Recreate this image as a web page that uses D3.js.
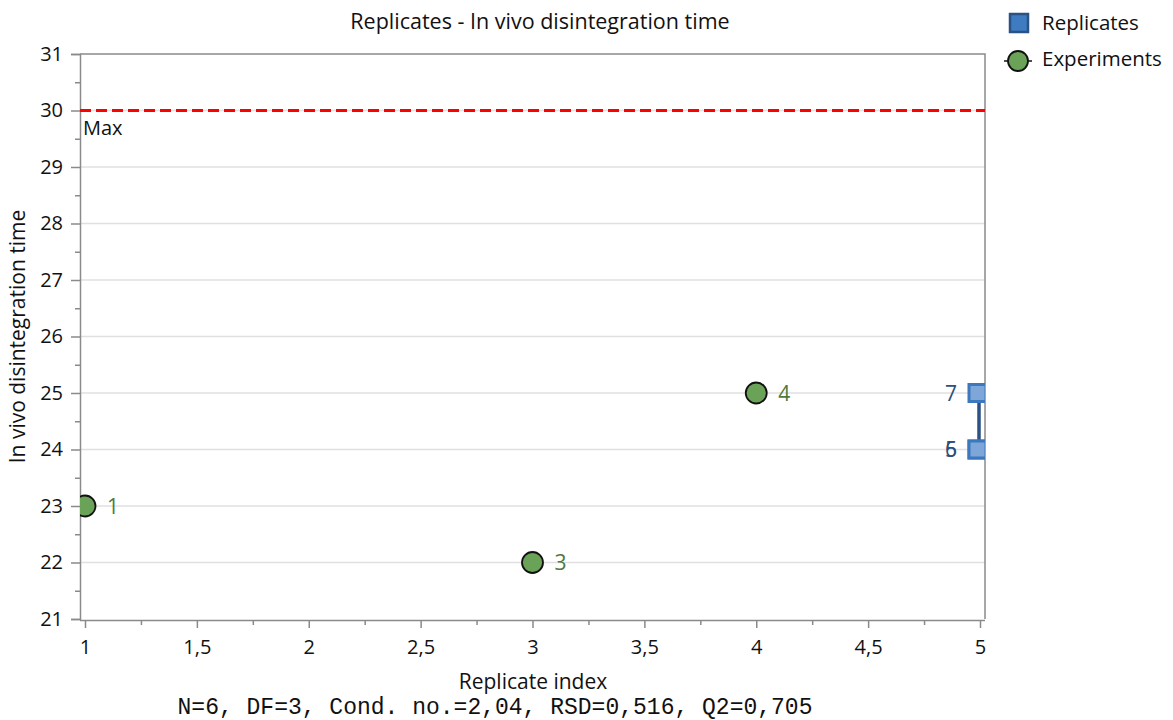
<!DOCTYPE html>
<html>
<head>
<meta charset="utf-8">
<script src="https://cdn.jsdelivr.net/npm/d3@7"></script>
<style>
  body { margin: 0; background: #fff; }
  svg { display: block; font-family: "Open Sans", "Noto Sans", sans-serif; }
</style>
</head>
<body>
<svg id="chart" width="1173" height="720"></svg>
<script>
// Experiments (single runs) and replicate runs of the same setting
const expIndex = [1, 3, 4];
const expValue = [23, 22, 25];
const expLabel = ["1", "3", "4"];

const repIndex = [5, 5, 5];
const repValue = [24, 24, 25];
const repLabel = ["5", "6", "7"];

const maxLimit = 30;
const xTicks = [1, 1.5, 2, 2.5, 3, 3.5, 4, 4.5, 5];
const yTicks = [21, 22, 23, 24, 25, 26, 27, 28, 29, 30, 31];
const statsText = "N=6, DF=3, Cond. no.=2,04, RSD=0,516, Q2=0,705";

const svg = d3.select("#chart");
const plot = { left: 80, top: 54, right: 985, bottom: 619 };

const x = d3.scaleLinear().domain([1, 5]).range([85, 980]);
const y = d3.scaleLinear().domain([21, 31]).range([plot.bottom, plot.top]);
const fmt = d => String(d).replace(".", ",");
const FONT = "'Open Sans', sans-serif";

svg.append("defs").append("clipPath").attr("id", "plotClip")
  .append("rect")
  .attr("x", plot.left).attr("y", plot.top - 12)
  .attr("width", plot.right - plot.left).attr("height", plot.bottom - plot.top + 12);

// horizontal grid
svg.append("g").selectAll("line")
  .data(yTicks.filter(t => t > 21 && t < 31))
  .join("line")
  .attr("x1", plot.left).attr("x2", plot.right)
  .attr("y1", d => y(d)).attr("y2", d => y(d))
  .attr("stroke", "#e0e0e0").attr("stroke-width", 1.5);

// frame (top and right)
svg.append("path")
  .attr("d", `M${plot.left},${plot.top}H${plot.right}V${plot.bottom}`)
  .attr("fill", "none").attr("stroke", "#8a8a8a").attr("stroke-width", 1.5);

// y axis
const yAxis = svg.append("g")
  .attr("transform", `translate(${plot.left},0)`)
  .call(d3.axisLeft(y).tickValues(yTicks).tickSize(9).tickPadding(8).tickFormat(d => d));
yAxis.select(".domain").attr("stroke", "#8a8a8a").attr("stroke-width", 1.5);
yAxis.selectAll(".tick line").attr("stroke", "#8a8a8a").attr("stroke-width", 1.5);
yAxis.selectAll(".tick text").attr("font-size", 20).attr("fill", "#111")
  .attr("font-family", FONT);
svg.append("g").attr("transform", `translate(${plot.left},0)`)
  .call(d3.axisLeft(y).tickValues(d3.range(21.5, 31, 1)).tickSize(5).tickFormat(""))
  .call(g => g.select(".domain").remove())
  .call(g => g.selectAll(".tick line").attr("stroke", "#8a8a8a").attr("stroke-width", 1.5));

// x axis
const xAxis = svg.append("g")
  .attr("transform", `translate(0,${plot.bottom + 1})`)
  .call(d3.axisBottom(x).tickValues(xTicks).tickSize(8).tickPadding(12).tickFormat(fmt));
xAxis.select(".domain").attr("stroke", "#8a8a8a").attr("stroke-width", 1.5)
  .attr("d", `M${plot.left},0.5H${plot.right}`);
xAxis.selectAll(".tick line").attr("stroke", "#8a8a8a").attr("stroke-width", 1.5);
xAxis.selectAll(".tick text").attr("font-size", 20).attr("fill", "#111")
  .attr("font-family", FONT);
svg.append("g").attr("transform", `translate(0,${plot.bottom + 1})`)
  .call(d3.axisBottom(x).tickValues(d3.range(1.25, 5, 0.5)).tickSize(5).tickFormat(""))
  .call(g => g.select(".domain").remove())
  .call(g => g.selectAll(".tick line").attr("stroke", "#8a8a8a").attr("stroke-width", 1.5));

// max limit
svg.append("line")
  .attr("x1", plot.left).attr("x2", plot.right)
  .attr("y1", y(maxLimit)).attr("y2", y(maxLimit))
  .attr("stroke", "#ff0000").attr("stroke-width", 3.2).attr("stroke-dasharray", "11,5");
svg.append("text")
  .attr("x", plot.left + 3).attr("y", y(maxLimit) + 24)
  .attr("font-size", 20).attr("fill", "#111").text("Max");

const marks = svg.append("g").attr("clip-path", "url(#plotClip)");

// replicate range line
const repExtent = d3.extent(repValue);
marks.append("line")
  .attr("x1", x(5) - 1).attr("x2", x(5) - 1)
  .attr("y1", y(repExtent[0])).attr("y2", y(repExtent[1]))
  .attr("stroke", "#2a5285").attr("stroke-width", 3.5);

// replicates
const reps = repIndex.map((d, i) => ({ x: d, y: repValue[i], label: repLabel[i] }));
marks.selectAll("rect.rep").data(reps).join("rect")
  .attr("class", "rep")
  .attr("x", d => x(d.x) - 11).attr("y", d => y(d.y) - 8.5)
  .attr("width", 17).attr("height", 17)
  .attr("fill", "#7ea6d8").attr("stroke", "#3c78bd").attr("stroke-width", 3);
svg.selectAll("text.rep").data(reps).join("text")
  .attr("class", "rep")
  .attr("x", d => x(d.x) - 23).attr("y", d => y(d.y))
  .attr("dy", "0.36em").attr("text-anchor", "end")
  .attr("font-size", 21).attr("fill", "#2c4f7c").text(d => d.label);

// experiments
const exps = expIndex.map((d, i) => ({ x: d, y: expValue[i], label: expLabel[i] }));
marks.selectAll("circle.exp").data(exps).join("circle")
  .attr("class", "exp")
  .attr("cx", d => x(d.x)).attr("cy", d => y(d.y)).attr("r", 10.5)
  .attr("fill", "#6aa257").attr("stroke", "#111").attr("stroke-width", 1.8);
svg.selectAll("text.exp").data(exps).join("text")
  .attr("class", "exp")
  .attr("x", d => x(d.x) + 22).attr("y", d => y(d.y))
  .attr("dy", "0.36em")
  .attr("font-size", 21).attr("fill", "#4e7a3e").text(d => d.label);

// title and axis titles
svg.append("text").attr("x", 540).attr("y", 29).attr("text-anchor", "middle")
  .attr("font-size", 21.5).attr("fill", "#111").text("Replicates - In vivo disintegration time");
svg.append("text").attr("x", 533).attr("y", 689).attr("text-anchor", "middle")
  .attr("font-size", 21).attr("fill", "#111").text("Replicate index");
svg.append("text")
  .attr("transform", `translate(25,${(plot.top + plot.bottom) / 2}) rotate(-90)`)
  .attr("text-anchor", "middle").attr("font-size", 21).attr("fill", "#111")
  .text("In vivo disintegration time");

// statistics footer
svg.append("text").attr("x", 495).attr("y", 714).attr("text-anchor", "middle")
  .attr("font-family", "'Liberation Mono', 'DejaVu Sans Mono', monospace")
  .attr("font-size", 23).attr("fill", "#111").text(statsText);

// legend
const legend = svg.append("g");
legend.append("rect").attr("x", 1010).attr("y", 14).attr("width", 18).attr("height", 18)
  .attr("fill", "#3f7bc0").attr("stroke", "#2a5285").attr("stroke-width", 2.5);
legend.append("text").attr("x", 1042).attr("y", 23).attr("dy", "0.36em")
  .attr("font-size", 20.5).attr("fill", "#111").text("Replicates");
legend.append("line").attr("x1", 1004).attr("x2", 1032).attr("y1", 61).attr("y2", 61)
  .attr("stroke", "#111").attr("stroke-width", 1.5);
legend.append("circle").attr("cx", 1018).attr("cy", 61).attr("r", 10)
  .attr("fill", "#6aa257").attr("stroke", "#111").attr("stroke-width", 1.8);
legend.append("text").attr("x", 1042).attr("y", 59).attr("dy", "0.36em")
  .attr("font-size", 20.5).attr("fill", "#111").text("Experiments");
</script>
</body>
</html>
